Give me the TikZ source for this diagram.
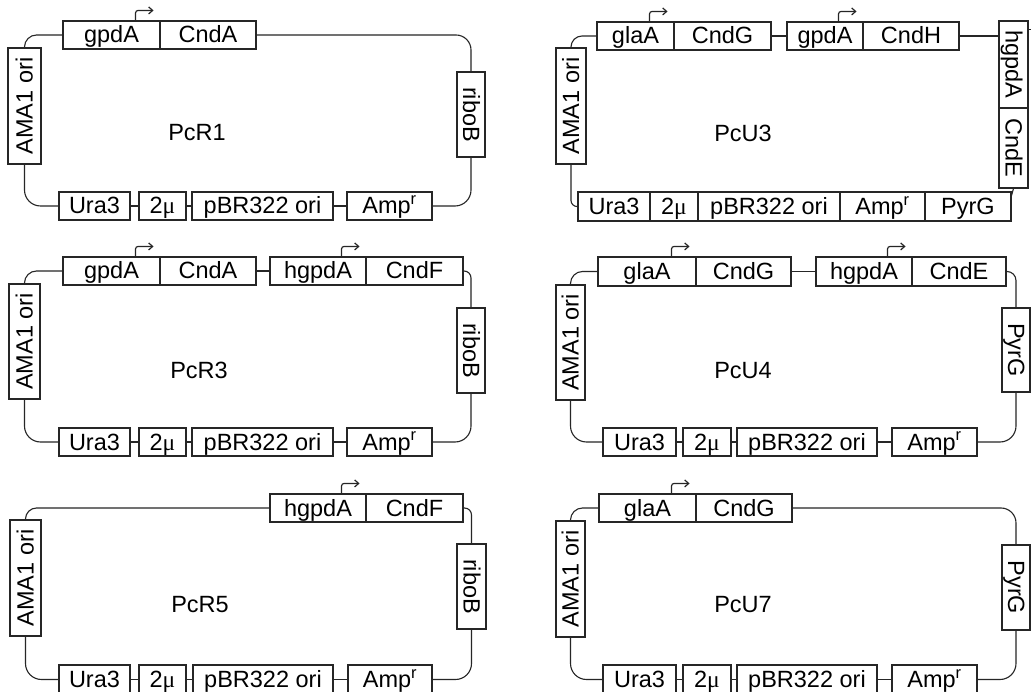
\documentclass[tikz,border=0pt]{standalone}
\usepackage{fontspec}
\setmainfont{Liberation Sans}
\newfontfamily\serifmu{Liberation Serif}
\usetikzlibrary{arrows.meta}
\newcommand\mutwo{2{\serifmu μ}}
\newcommand\ampr{Amp\textsuperscript{r}}
% name x1 y1 x2 y2 text   (pixel coordinates, y downward)
\newcommand\genebox[6]{%
  \node[gene, minimum width={(#4)-(#2)}, minimum height={(#5)-(#3)}] (#1) at ({((#2)+(#4))/2},{-((#3)+(#5))/2}) {#6};}
% name x1 y1 x2 y2 rotation text
\newcommand\genevert[7]{%
  \node[gene, rotate=#6, minimum width={(#5)-(#3)}, minimum height={(#4)-(#2)}] (#1) at ({((#2)+(#4))/2},{-((#3)+(#5))/2}) {#7};}
\newcommand\promoter[1]{%
  \draw[prom] ([xshift=-25pt]#1.north east) -- ++(0,10) -- ++(18,0);}
\tikzset{
  gene/.style={draw=black!85, line width=1.1pt, fill=white, inner sep=0pt,
    font=\fontsize{23.5}{26}\selectfont, text height=17pt, text depth=1pt},
  plname/.style={inner sep=0pt, font=\fontsize{23.5}{26}\selectfont},
  wire/.style={draw=black!85, line width=1.1pt},
  prom/.style={draw=black!85, line width=1.2pt, rounded corners=2.5pt,
    -{Straight Barb[length=4pt,width=7pt]}},
}
\begin{document}
\begin{tikzpicture}[x=1pt,y=1pt]
\useasboundingbox (0,0) rectangle (1031,-692);
\clip (0,0) rectangle (1031,-692);
\fill[white] (0,0) rectangle (1031,-692);

% ===== PcR1 =====
\genebox{a1}{63}{21}{160}{49}{gpdA}
\genebox{b1}{160}{21}{256}{49}{CndA}
\genevert{o1}{8}{48}{41}{164}{90}{AMA1 ori}
\genevert{r1}{457}{72}{485}{157}{-90}{riboB}
\genebox{u1}{59}{192}{130}{220}{Ura3}
\genebox{m1}{139}{192}{186}{220}{\mutwo}
\genebox{p1}{192}{192}{333}{220}{pBR322 ori}
\genebox{s1}{347}{192}{432}{220}{\ampr}
\node[plname] (l1) at (197,-133) {PcR1};
\promoter{a1}
\draw[wire, rounded corners=12pt] (a1.west) -| (o1.east);
\draw[wire, rounded corners=15pt] (b1.east) -| (r1.west);
\draw[wire, rounded corners=16pt] (o1.west) |- (u1.west);
\draw[wire] (u1.east) -- (m1.west) (m1.east) -- (p1.west) (p1.east) -- (s1.west);
\draw[wire, rounded corners=16pt] (s1.east) -| (r1.east);

% ===== PcU3 =====
\genebox{g3}{597}{22}{674}{50}{glaA}
\genebox{c3}{674}{22}{771}{50}{CndG}
\genebox{d3}{787}{22}{863}{50}{gpdA}
\genebox{h3}{863}{22}{959}{50}{CndH}
\genevert{v3}{999}{21}{1028}{108}{-90}{hgpdA}
\genevert{e3}{999}{108}{1028}{188}{-90}{CndE}
\genevert{o3}{556}{48}{586}{164}{90}{AMA1 ori}
\genebox{u3}{578}{192}{650}{221}{Ura3}
\genebox{m3}{650}{192}{698}{221}{\mutwo}
\genebox{p3}{698}{192}{840}{221}{pBR322 ori}
\genebox{s3}{840}{192}{925}{221}{\ampr}
\genebox{y3}{925}{192}{1011}{221}{PyrG}
\node[plname] (l3) at (743,-133) {PcU3};
\promoter{g3}
\promoter{d3}
\draw[wire, rounded corners=11pt] (g3.west) -| (o3.east);
\draw[wire] (c3.east) -- (d3.west);
\draw[wire] (h3.east) -- (h3.east -| v3.south);
\draw[wire] ([yshift=-9pt]v3.north west) -- ++(10,0);
\draw[wire, rounded corners=6pt] (o3.west) |- (u3.west);
\draw[wire] (e3.east) -- ([yshift=-4pt]y3.north east);

% ===== PcR3 =====
\genebox{a2}{63}{257}{160}{285}{gpdA}
\genebox{b2}{160}{257}{256}{285}{CndA}
\genebox{f2}{270}{257}{366}{285}{hgpdA}
\genebox{n2}{366}{257}{463}{285}{CndF}
\genevert{o2}{9}{284}{40}{399}{90}{AMA1 ori}
\genevert{r2}{457}{308}{485}{393}{-90}{riboB}
\genebox{u2}{59}{428}{130}{456}{Ura3}
\genebox{m2}{139}{428}{186}{456}{\mutwo}
\genebox{p2}{192}{428}{333}{456}{pBR322 ori}
\genebox{s2}{347}{428}{432}{456}{\ampr}
\node[plname] (l2) at (199,-370) {PcR3};
\promoter{a2}
\promoter{f2}
\draw[wire, rounded corners=12pt] (a2.west) -| (o2.east);
\draw[wire] (b2.east) -- (f2.west);
\draw[wire, rounded corners=7pt] (n2.east) -| (r2.west);
\draw[wire, rounded corners=16pt] (o2.west) |- (u2.west);
\draw[wire] (u2.east) -- (m2.west) (m2.east) -- (p2.west) (p2.east) -- (s2.west);
\draw[wire, rounded corners=16pt] (s2.east) -| (r2.east);

% ===== PcU4 =====
\genebox{g4}{598}{257}{696}{286}{glaA}
\genebox{c4}{696}{257}{791}{286}{CndG}
\genebox{f4}{816}{257}{912}{286}{hgpdA}
\genebox{e4}{912}{257}{1006}{286}{CndE}
\genevert{o4}{556}{285}{585}{400}{90}{AMA1 ori}
\genevert{y4}{1002}{308}{1030}{392}{-90}{PyrG}
\genebox{u4}{603}{428}{676}{456}{Ura3}
\genebox{m4}{683}{428}{731}{456}{\mutwo}
\genebox{p4}{737}{428}{877}{456}{pBR322 ori}
\genebox{s4}{892}{428}{977}{456}{\ampr}
\node[plname] (l4) at (743,-371) {PcU4};
\promoter{g4}
\promoter{f4}
\draw[wire, rounded corners=12pt] (g4.west) -| (o4.east);
\draw[wire] (c4.east) -- (f4.west);
\draw[wire, rounded corners=9pt] (e4.east) -| (y4.west);
\draw[wire, rounded corners=16pt] (o4.west) |- (u4.west);
\draw[wire] (u4.east) -- (m4.west) (m4.east) -- (p4.west) (p4.east) -- (s4.west);
\draw[wire, rounded corners=16pt] (s4.east) -| (y4.east);

% ===== PcR5 =====
\genebox{f5}{270}{494}{366}{522}{hgpdA}
\genebox{n5}{366}{494}{463}{522}{CndF}
\genevert{o5}{10}{520}{41}{636}{90}{AMA1 ori}
\genevert{r5}{457}{544}{486}{629}{-90}{riboB}
\genebox{u5}{59}{665}{130}{694}{Ura3}
\genebox{m5}{139}{665}{186}{694}{\mutwo}
\genebox{p5}{193}{665}{333}{694}{pBR322 ori}
\genebox{s5}{348}{665}{432}{694}{\ampr}
\node[plname] (l5) at (200,-605) {PcR5};
\promoter{f5}
\draw[wire, rounded corners=11pt] (f5.west) -| (o5.east);
\draw[wire, rounded corners=7pt] (n5.east) -| (r5.west);
\draw[wire, rounded corners=16pt] (o5.west) |- (u5.west);
\draw[wire] (u5.east) -- (m5.west) (m5.east) -- (p5.west) (p5.east) -- (s5.west);
\draw[wire, rounded corners=16pt] (s5.east) -| (r5.east);

% ===== PcU7 =====
\genebox{g6}{599}{494}{696}{522}{glaA}
\genebox{c6}{696}{494}{792}{522}{CndG}
\genevert{o6}{556}{521}{585}{637}{90}{AMA1 ori}
\genevert{y6}{1002}{545}{1030}{630}{-90}{PyrG}
\genebox{u6}{603}{665}{676}{694}{Ura3}
\genebox{m6}{683}{665}{731}{694}{\mutwo}
\genebox{p6}{737}{665}{877}{694}{pBR322 ori}
\genebox{s6}{892}{665}{977}{694}{\ampr}
\node[plname] (l6) at (743,-605) {PcU7};
\promoter{g6}
\draw[wire, rounded corners=12pt] (g6.west) -| (o6.east);
\draw[wire, rounded corners=15pt] (c6.east) -| (y6.west);
\draw[wire, rounded corners=16pt] (o6.west) |- (u6.west);
\draw[wire] (u6.east) -- (m6.west) (m6.east) -- (p6.west) (p6.east) -- (s6.west);
\draw[wire, rounded corners=16pt] (s6.east) -| (y6.east);
\end{tikzpicture}
\end{document}
